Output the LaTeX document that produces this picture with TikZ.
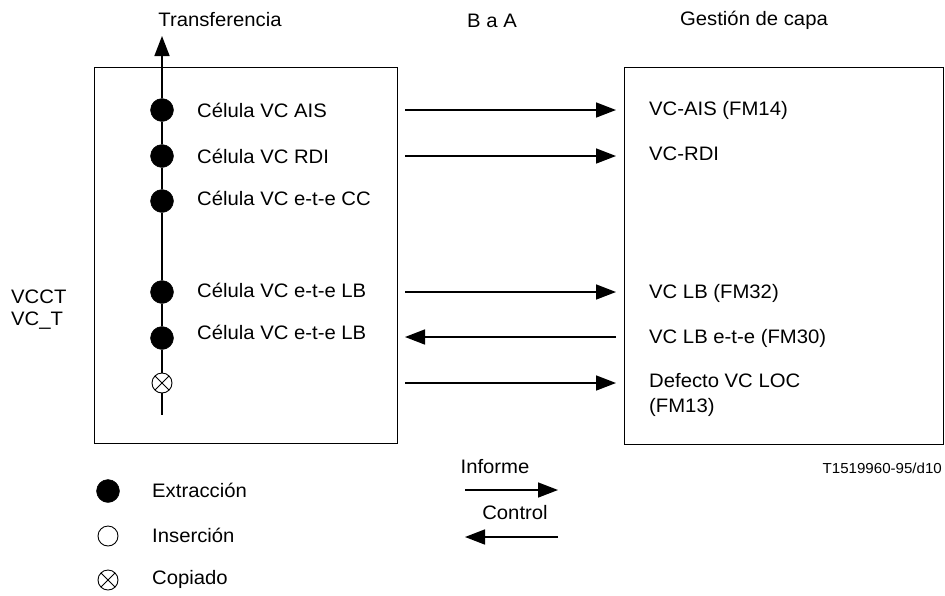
\documentclass[tikz,border=0pt]{standalone}
\usepackage{fontspec}
\setmainfont{Liberation Sans}[FakeStretch=1.04]
\usetikzlibrary{arrows.meta}
\tikzset{
  lbl/.style={inner sep=0pt, anchor=west, font=\fontsize{19.5}{23}\selectfont},
  ctr/.style={inner sep=0pt, font=\fontsize{19.5}{23}\selectfont},
  boxx/.style={draw, line width=1.3pt},
  dotx/.style={circle, fill=black, draw=black, minimum size=23pt, inner sep=0pt},
  odot/.style={circle, draw=black, line width=0.9pt, minimum size=20pt, inner sep=0pt},
  xdot/.style={circle, draw=black, line width=0.9pt, minimum size=20pt, inner sep=0pt, path picture={
     \draw[line width=0.9pt] (path picture bounding box.north west) -- (path picture bounding box.south east)
       (path picture bounding box.south west) -- (path picture bounding box.north east);}},
  arr/.style={line width=1.6pt, -{Triangle[length=20pt,width=15pt]}},
}
\begin{document}
\begin{tikzpicture}[x=1pt,y=-1pt]
\useasboundingbox (0,0) rectangle (945,595);
% boxes
\node[boxx, minimum width=303pt, minimum height=376pt, anchor=north west, inner sep=0pt] (L) at (94,67) {};
\node[boxx, minimum width=319pt, minimum height=377pt, anchor=north west, inner sep=0pt] (R) at (624,67) {};
% headers
\node[ctr] (trans) at (220,20) {Transferencia};
\node[ctr] (ba) at (492,21) {B a A};
\node[ctr] (gest) at (754,20) {Gestión de capa};
% vertical line
\coordinate (top) at (162,36);
\coordinate (bot) at (162,415);
\node[dotx] (d1) at (162,110) {};
\node[dotx] (d2) at (162,156) {};
\node[dotx] (d3) at (162,201) {};
\node[dotx] (d4) at (162,292) {};
\node[dotx] (d5) at (162,338) {};
\node[xdot, fill=white] (d6) at (162,383) {};
\draw[line width=1.6pt] (d6) -- (bot);
\draw[line width=1.6pt] (d6) -- (d5) -- (d4) -- (d3) -- (d2) -- (d1);
\draw[arr] (d1) -- (top);
% left labels
\node[lbl] (l1) at (197,110) {Célula VC AIS};
\node[lbl] (l2) at (197,156) {Célula VC RDI};
\node[lbl] (l3) at (197,198) {Célula VC e-t-e CC};
\node[lbl] (l4) at (197,290) {Célula VC e-t-e LB};
\node[lbl] (l5) at (197,332) {Célula VC e-t-e LB};
% right labels
\node[lbl] (r1) at (649,110) {VC-AIS (FM14)};
\node[lbl] (r2) at (649,154) {VC-RDI};
\node[lbl] (r4) at (649,293) {VC LB (FM32)};
\node[lbl] (r5) at (649,338) {VC LB e-t-e (FM30)};
\node[lbl, align=left, font=\fontsize{19.5}{25}\selectfont] (r6) at (649,395) {Defecto VC LOC\\(FM13)};
% arrows
\coordinate (a1s) at (405,110); \coordinate (a1e) at (616,110);
\coordinate (a2s) at (405,156); \coordinate (a2e) at (616,156);
\coordinate (a4s) at (405,292); \coordinate (a4e) at (616,292);
\coordinate (a5s) at (405,337); \coordinate (a5e) at (616,337);
\coordinate (a6s) at (405,383); \coordinate (a6e) at (616,383);
\draw[arr] (a1s) -- (a1e);
\draw[arr] (a2s) -- (a2e);
\draw[arr] (a4s) -- (a4e);
\draw[arr] (a5e) -- (a5s);
\draw[arr] (a6s) -- (a6e);
% VCCT
\node[lbl] (vcct) at (11,297) {VCCT};
\node[lbl] (vct) at (11,321) {VC\_T};
% ref
\node[inner sep=0pt, anchor=east, font=\fontsize{14.5}{17}\selectfont] (ref) at (942,468) {T1519960-95/d10};
% legend
\node[dotx] (k1) at (108,491) {};
\node[odot] (k2) at (108,536) {};
\node[xdot] (k3) at (108,580) {};
\node[lbl] (k1l) at (152,490) {Extracción};
\node[lbl] (k2l) at (152,535) {Inserción};
\node[lbl] (k3l) at (152,579) {Copiado};
\node[ctr] (inf) at (495,467) {Informe};
\node[ctr] (ctl) at (515,513) {Control};
\coordinate (i1) at (465,490); \coordinate (i2) at (558,490);
\coordinate (c1) at (558,537); \coordinate (c2) at (465,537);
\draw[arr] (i1) -- (i2);
\draw[arr] (c1) -- (c2);
\end{tikzpicture}
\end{document}
